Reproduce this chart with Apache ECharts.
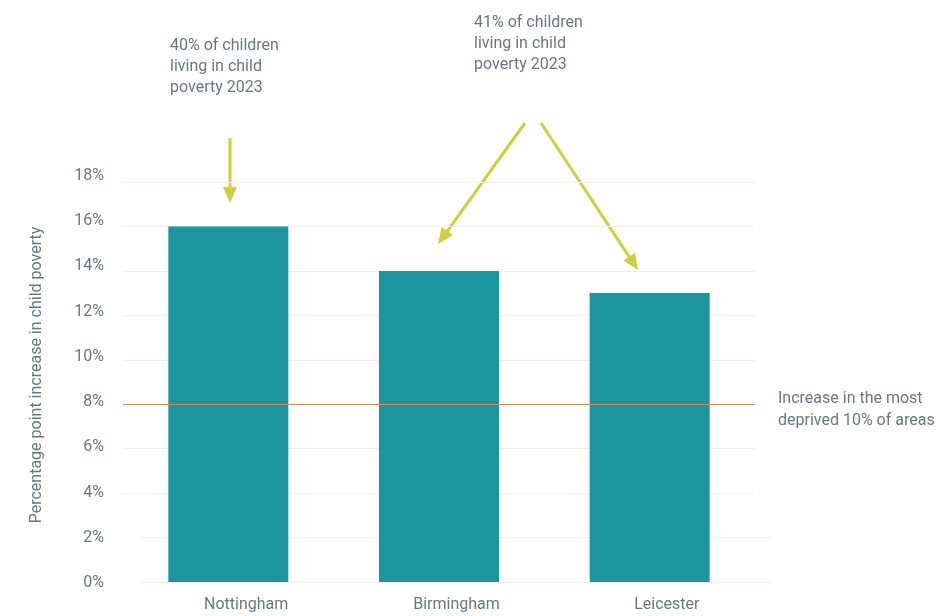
<!DOCTYPE html>
<html><head><meta charset="utf-8">
<script src="https://cdn.jsdelivr.net/npm/echarts@6/dist/echarts.min.js"></script>
<style>html,body{margin:0;padding:0;background:#fff}#c{width:950px;height:616px}</style>
</head><body><div id="c"></div>
<script>
var categories = ['Nottingham', 'Birmingham', 'Leicester'];
var increase = [16, 14, 13];
var deprivedIncrease = 8;
var yTicks = [0, 2, 4, 6, 8, 10, 12, 14, 16, 18];
var refLabel = 'Increase in the most\ndeprived 10% of areas';
var note1 = '40% of children\nliving in child\npoverty 2023';
var note2 = '41% of children\nliving in child\npoverty 2023';

var txt = '#677884', grid = '#f3eee8', teal = '#1b96a0', arrowC = '#cdd03a', orange = '#e08a55';
var FONT = 'Roboto';

function arrow(x1, y1, x2, y2) {
  var dx = x2 - x1, dy = y2 - y1, L = Math.sqrt(dx*dx + dy*dy);
  var ux = dx / L, uy = dy / L, hl = 16, hw = 7;
  var bx = x2 - ux * hl, by = y2 - uy * hl;
  return [
    {type: 'line', shape: {x1: x1, y1: y1, x2: bx + ux*2, y2: by + uy*2}, style: {stroke: arrowC, lineWidth: 3}},
    {type: 'polygon', shape: {points: [[x2, y2], [bx - uy*hw, by + ux*hw], [bx + uy*hw, by - ux*hw]]}, style: {fill: arrowC}}
  ];
}

var upperColors = yTicks.map(function (v) { return v <= 2 ? 'rgba(0,0,0,0)' : grid; });
var lowerColors = yTicks.map(function (v) { return v <= 2 ? grid : 'rgba(0,0,0,0)'; });

var chart = echarts.init(document.getElementById('c'), null, {renderer: 'canvas'});
chart.setOption({
  animation: false,
  textStyle: {fontFamily: FONT},
  grid: [
    {left: 123, right: 195, top: 182, bottom: 34},
    {left: 141, right: 178, top: 182, bottom: 34},
    {left: 123, right: 195, top: 176, bottom: 33}
  ],
  xAxis: [
    {type: 'category', gridIndex: 0, data: categories, axisLine: {show: false}, axisTick: {show: false}, axisLabel: {show: false}},
    {type: 'category', gridIndex: 1, data: categories, axisLine: {show: false}, axisTick: {show: false},
     axisLabel: {color: txt, fontSize: 16, fontFamily: FONT, margin: 15}},
    {type: 'category', gridIndex: 2, data: categories, show: false}
  ],
  yAxis: [
    {type: 'value', gridIndex: 0, min: 0, max: 18, interval: 2,
     name: 'Percentage point increase in child poverty', nameLocation: 'middle', nameGap: 78,
     nameTextStyle: {color: txt, fontSize: 16, fontFamily: FONT, padding: [0, 0, 0, 14]},
     axisLine: {show: false}, axisTick: {show: false}, axisLabel: {show: false},
     splitLine: {lineStyle: {color: upperColors, width: 1}}},
    {type: 'value', gridIndex: 1, min: 0, max: 18, interval: 2,
     axisLine: {show: false}, axisTick: {show: false}, axisLabel: {show: false},
     splitLine: {lineStyle: {color: lowerColors, width: 1}}},
    {type: 'value', gridIndex: 2, min: 0, max: 18, interval: 2,
     axisLine: {show: false}, axisTick: {show: false}, splitLine: {show: false},
     axisLabel: {color: txt, fontSize: 16, fontFamily: FONT, margin: 19, formatter: '{value}%'}}
  ],
  series: [{
    type: 'bar', xAxisIndex: 0, yAxisIndex: 0, data: increase, barWidth: 120,
    itemStyle: {color: teal}, z: 2,
    markLine: {
      silent: true, symbol: 'none',
      lineStyle: {color: orange, width: 1, type: 'solid'},
      label: {show: true, position: 'end', distance: 23, formatter: refLabel, color: txt,
              fontSize: 16, fontFamily: FONT, lineHeight: 22, align: 'left', offset: [0, 6]},
      data: [{yAxis: deprivedIncrease}]
    }
  }],
  graphic: [
    {type: 'text', left: 170, top: 35, style: {text: note1, fill: txt, font: '16px ' + FONT, lineHeight: 21}},
    {type: 'text', left: 474, top: 12, style: {text: note2, fill: txt, font: '16px ' + FONT, lineHeight: 21}}
  ].concat(arrow(230, 138, 230, 203), arrow(525, 123, 438, 244), arrow(541, 123, 638, 270))
});
</script></body></html>
